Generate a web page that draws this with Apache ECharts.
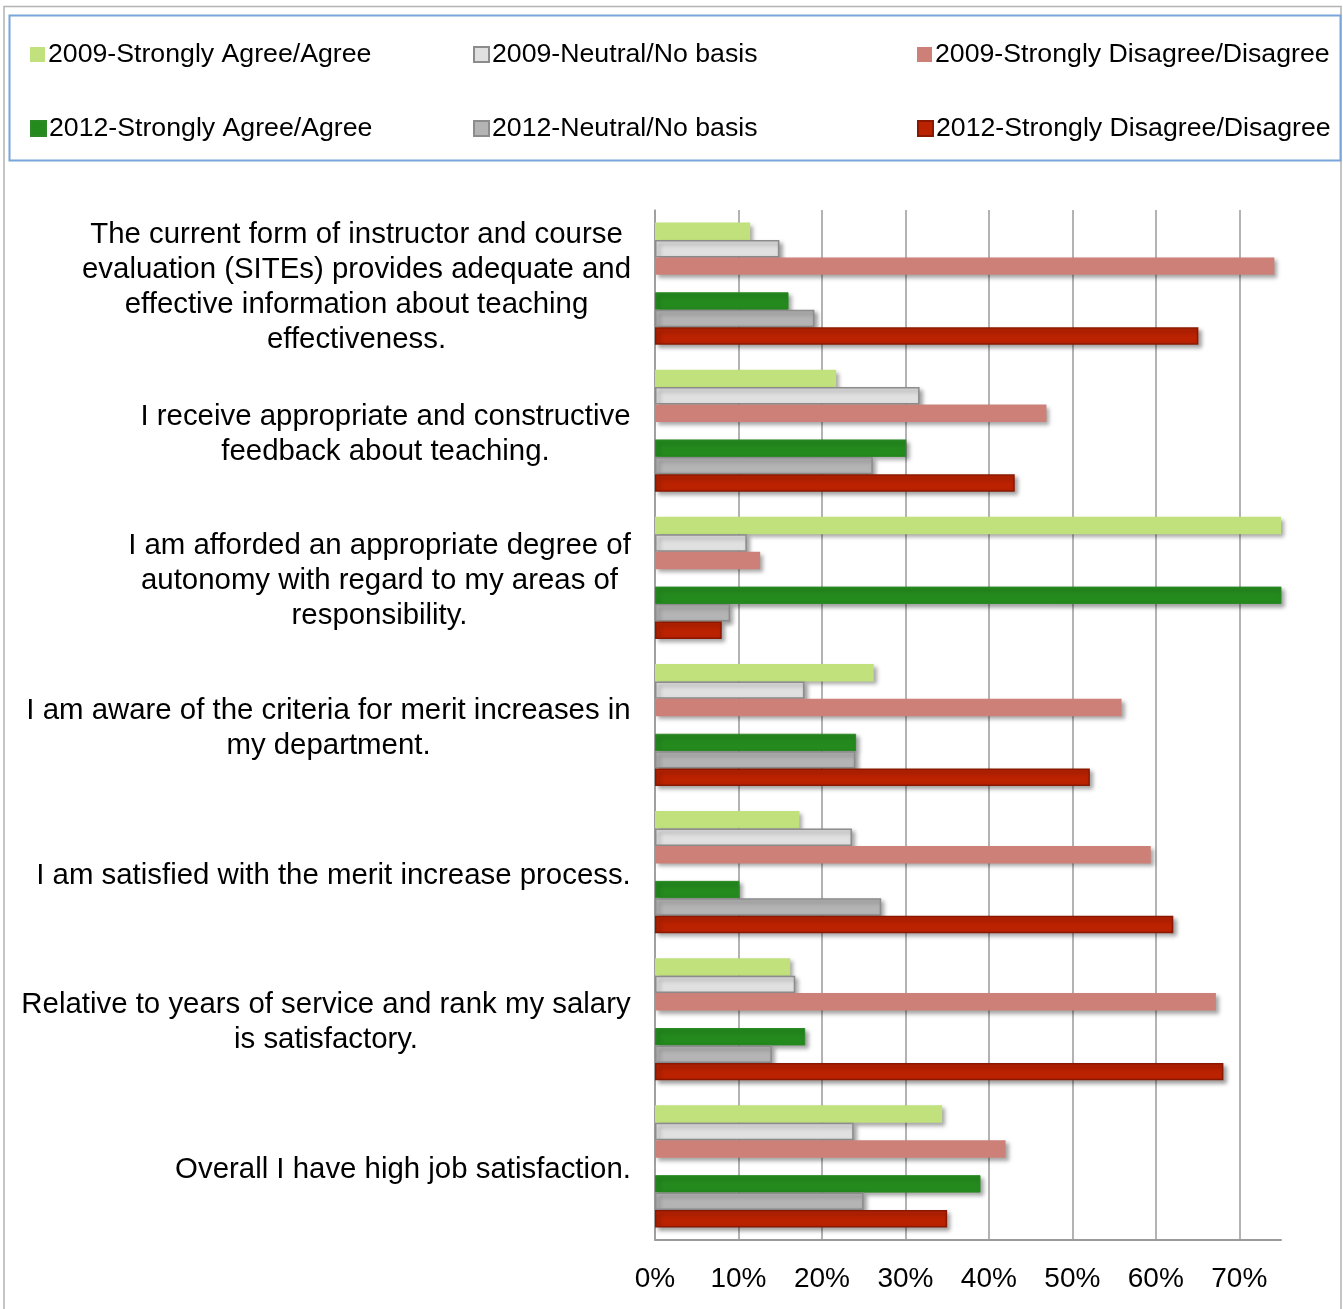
<!DOCTYPE html>
<html>
<head>
<meta charset="utf-8">
<script src="https://cdn.jsdelivr.net/npm/echarts@6/dist/echarts.min.js"></script>
<style>
  html, body { margin: 0; padding: 0; background: #fff; }
  #chart { width: 1343px; height: 1309px; }
</style>
</head>
<body>
<div id="chart"></div>
<script>
// ---- Data ----
const categories = [
  "The current form of instructor and course\nevaluation (SITEs) provides adequate and\neffective information about teaching\neffectiveness.",
  "I receive appropriate and constructive\nfeedback about teaching.",
  "I am afforded an appropriate degree of\nautonomy with regard to my areas of\nresponsibility.",
  "I am aware of the criteria for merit increases in\nmy department.",
  "I am satisfied with the merit increase process.",
  "Relative to years of service and rank my salary\nis satisfactory.",
  "Overall I have high job satisfaction."
];
const seriesNames = [
  "2009-Strongly Agree/Agree",
  "2009-Neutral/No basis",
  "2009-Strongly Disagree/Disagree",
  "2012-Strongly Agree/Agree",
  "2012-Neutral/No basis",
  "2012-Strongly Disagree/Disagree"
];
const agree2009    = [11.4, 21.7, 76.4, 26.2, 17.3, 16.2, 34.4];
const neutral2009  = [14.9, 31.7, 11.0, 17.9, 23.6, 16.8, 23.8];
const disagree2009 = [74.2, 46.9, 12.6, 55.9, 59.4, 67.2, 42.0];
const agree2012    = [16.0, 30.1, 83.0, 24.1, 10.1, 18.0, 39.0];
const neutral2012  = [19.1, 26.1,  9.0, 24.0, 27.1, 14.0, 25.0];
const disagree2012 = [65.1, 43.1,  8.0, 52.1, 62.1, 68.1, 35.0];
const xTicks = [0, 10, 20, 30, 40, 50, 60, 70];

// ---- Styling ----
const FONT = '"Liberation Sans", Arial, Helvetica, sans-serif';
const LABEL_SIZE = 29.4;
const seriesStyles = [
  { color: '#c0e17b' },
  { color: '#e0e0e0', borderColor: '#8c8c8c', borderWidth: 1.5 },
  { color: '#cd8078' },
  { color: '#248a1e', borderColor: '#2c8a26', borderWidth: 1 },
  { color: '#b4b4b4', borderColor: '#8c8c8c', borderWidth: 1.5 },
  { color: '#bb2200', borderColor: '#8a1800', borderWidth: 1.5 }
];
const seriesData = [agree2009, neutral2009, disagree2009, agree2012, neutral2012, disagree2012];

// measure label blocks so lines can be centered within right-aligned blocks
const cv = document.createElement('canvas').getContext('2d');
cv.font = LABEL_SIZE + 'px ' + FONT;
const rich = {};
categories.forEach((c, i) => {
  const w = Math.max(...c.split('\n').map(l => cv.measureText(l).width));
  rich['c' + i] = { width: Math.ceil(w) + 2, align: 'center', fontSize: LABEL_SIZE, lineHeight: 35, color: '#000', fontFamily: FONT };
});

const shadow = { shadowColor: 'rgba(0,0,0,0.35)', shadowBlur: 4, shadowOffsetX: 3, shadowOffsetY: 3 };
const series = [];
seriesData.forEach((d, i) => {
  if (i === 3) {
    series.push({ type: 'bar', name: '_gap', data: categories.map(() => null), barGap: 0, silent: true });
  }
  series.push({
    type: 'bar',
    name: seriesNames[i],
    data: d,
    barGap: 0,
    barCategoryGap: '17%',
    clip: true,
    itemStyle: Object.assign({}, seriesStyles[i], shadow)
  });
});

const legendPos = [
  [30, 41], [473, 41], [917, 41],
  [30, 115], [473, 115], [917, 115]
];
const legends = seriesNames.map((n, i) => ({
  data: [n],
  left: legendPos[i][0],
  top: legendPos[i][1],
  padding: 0,
  icon: 'rect',
  itemWidth: 15,
  itemHeight: 15,
  itemGap: 0,
  textStyle: { fontSize: 26.7, fontFamily: FONT, color: '#000', padding: [2, 0, 0, -2] },
  itemStyle: { shadowBlur: 0, shadowOffsetX: 0, shadowOffsetY: 0 }
}));

const chart = echarts.init(document.getElementById('chart'), null, { renderer: 'canvas' });
chart.setOption({
  animation: false,
  backgroundColor: '#fff',
  textStyle: { fontFamily: FONT },
  graphic: [
    { type: 'rect', shape: { x: 4, y: 6.5, width: 1337, height: 1310 }, style: { fill: 'none', stroke: '#b3b3b3', lineWidth: 1.5 }, silent: true },
    { type: 'rect', shape: { x: 9.5, y: 15.5, width: 1331, height: 145 }, style: { fill: 'none', stroke: '#79a5da', lineWidth: 2 }, silent: true }
  ],
  legend: legends,
  grid: { left: 655, right: 62, top: 210, bottom: 69, containLabel: false },
  xAxis: {
    type: 'value',
    min: 0, max: 75, interval: 10,
    axisLine: { show: true, lineStyle: { color: '#9a9a9a', width: 2 } },
    axisTick: { show: false },
    splitLine: { show: true, showMaxLine: false, lineStyle: { color: '#9a9a9a', width: 1.5 } },
    axisLabel: {
      showMaxLabel: false,
      margin: 25,
      fontSize: 28,
      color: '#000',
      fontFamily: FONT,
      formatter: v => (xTicks.indexOf(v) >= 0 ? v + '%' : '')
    }
  },
  yAxis: {
    type: 'category',
    inverse: true,
    data: categories,
    axisLine: { show: true, lineStyle: { color: '#9a9a9a', width: 1.5 } },
    axisTick: { show: false },
    axisLabel: {
      margin: 23,
      align: 'right',
      padding: [7, 0, 0, 0],
      formatter: v => {
        const i = categories.indexOf(v);
        return v.split('\n').map(l => '{c' + i + '|' + l + '}').join('\n');
      },
      rich: rich
    }
  },
  series: series
});
</script>
</body>
</html>
